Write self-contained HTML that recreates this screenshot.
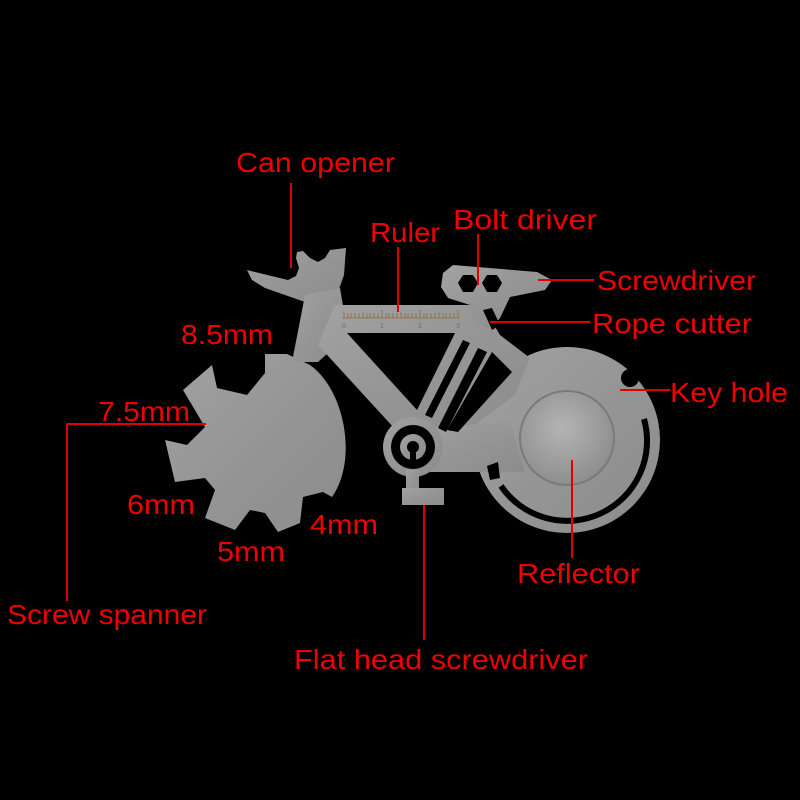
<!DOCTYPE html>
<html><head><style>html,body{margin:0;padding:0;background:#000;width:800px;height:800px;overflow:hidden}</style></head>
<body>
<svg width="800" height="800" viewBox="0 0 800 800" xmlns="http://www.w3.org/2000/svg">
<defs>
<linearGradient id="m" x1="0" y1="0" x2="1" y2="1">
<stop offset="0" stop-color="#a2a2a2"/><stop offset="0.5" stop-color="#959595"/><stop offset="1" stop-color="#8c8c8c"/>
</linearGradient>
<radialGradient id="r" cx="0.45" cy="0.4" r="0.6">
<stop offset="0" stop-color="#b4b4b4"/><stop offset="1" stop-color="#8e8e8e"/>
</radialGradient>
</defs>
<rect width="800" height="800" fill="#000"/>
<g fill="url(#m)">
<!-- gear -->
<path d="M265,354 L287,354 L310,365 C345,390 358,460 332,497 L323,492 L303,497 L300,523 L278,532 L265,513 L250,510 L235,530 L205,518 L215,490 L205,478 L175,482 L165,440 L187,445 L205,427 L183,390 L212,365 L217,388 L247,395 L265,373 Z"/>
<!-- front wheel -->
<circle cx="567" cy="440" r="93"/>
<!-- handlebar -->
<polygon points="247,270 288,280 296,276 299,268 296,258 297,252 303,251 310,258 318,262 325,258 330,250 346,248 344,275 338,292 320,305 305,302 285,295 265,288 252,280"/>
<!-- stem -->
<polygon points="305,295 340,288 348,335 318,362 292,362"/>
<!-- frame main -->
<polygon points="335,305 482,305 500,335 530,358 515,395 455,440 405,440 318,345"/>
<!-- chainstay -->
<polygon points="415,428 510,422 525,472 420,472"/>
<!-- seat -->
<polygon points="443,273 453,265 537,272 552,280 545,290 510,297 500,318 490,330 473,320 470,305 448,298 441,287"/>
<!-- crank -->
<circle cx="413" cy="447" r="30"/>
<rect x="406" y="470" width="13" height="22"/>
<rect x="402" y="488" width="42" height="17"/>
</g>
<!-- cutouts -->
<g fill="#000">
<polygon points="347,333 455,333 417,410"/>
<polygon points="463,340 470,343 432,418 425,415"/>
<polygon points="478,348 487,352 446,432 438,428"/>
<polygon points="492,352 512,372 458,432 447,430"/>
<circle cx="413" cy="447" r="22"/>
<circle cx="630" cy="378" r="9"/>
<polygon points="487,466 498,462 500,478 490,480"/>
<polygon points="463,275 473,275 478,283 473,292 463,292 458,283"/>
<polygon points="487,275 497,275 502,283 497,292 487,292 482,283"/>
<polygon points="483,310 492,308 500,325 492,330"/>
</g>
<path d="M644,419 A80,80 0 0 1 501,486" fill="none" stroke="#000" stroke-width="6"/>
<circle cx="413" cy="447" r="13" fill="url(#m)"/>
<circle cx="413" cy="447" r="6" fill="#000"/>
<rect x="410" y="450" width="6" height="14" fill="#000"/>
<circle cx="567" cy="438" r="47" fill="url(#r)" stroke="#7a7a7a" stroke-width="2"/>
<!-- ruler -->
<g stroke="#8a6a3a" stroke-width="0.8">
<line x1="342" y1="318" x2="460" y2="318"/>
<path d="M344,311v7M348,313v5M351,313v5M355,313v5M359,313v5M363,312v6M367,313v5M370,313v5M374,313v5M378,313v5M382,310v8M386,313v5M389,313v5M393,313v5M397,313v5M401,312v6M405,313v5M408,313v5M412,313v5M416,313v5M420,310v8M424,313v5M427,313v5M431,313v5M435,313v5M439,312v6M443,313v5M446,313v5M450,313v5M454,313v5M458,310v8"/>
</g>
<g fill="#8a6a3a" font-family="Liberation Sans" font-size="7"><text x="342" y="328">0</text><text x="380" y="328">1</text><text x="418" y="328">2</text><text x="456" y="328">3</text></g>
<!-- connectors -->
<g stroke="#e00000" stroke-width="2" fill="none">
<line x1="291" y1="183" x2="291" y2="268"/>
<line x1="398" y1="247" x2="398" y2="312"/>
<line x1="478" y1="234" x2="478" y2="285"/>
<line x1="538" y1="280" x2="594" y2="280"/>
<line x1="490" y1="322" x2="590" y2="322"/>
<line x1="620" y1="390" x2="670" y2="390"/>
<line x1="572" y1="460" x2="572" y2="558"/>
<line x1="424" y1="505" x2="424" y2="640"/>
<polyline points="206,424 67,424 67,601"/>
</g>
<g fill="#f00000" font-family="Liberation Sans Narrow, Liberation Sans, sans-serif" font-size="28">
<text x="236" y="172" textLength="159" lengthAdjust="spacingAndGlyphs">Can opener</text>
<text x="370" y="242" textLength="70" lengthAdjust="spacingAndGlyphs">Ruler</text>
<text x="453" y="229" textLength="144" lengthAdjust="spacingAndGlyphs">Bolt driver</text>
<text x="597" y="290" textLength="159" lengthAdjust="spacingAndGlyphs">Screwdriver</text>
<text x="592" y="333" textLength="160" lengthAdjust="spacingAndGlyphs">Rope cutter</text>
<text x="670" y="402" textLength="118" lengthAdjust="spacingAndGlyphs">Key hole</text>
<text x="181" y="344" textLength="92" lengthAdjust="spacingAndGlyphs">8.5mm</text>
<text x="98" y="421" textLength="92" lengthAdjust="spacingAndGlyphs">7.5mm</text>
<text x="127" y="514" textLength="68" lengthAdjust="spacingAndGlyphs">6mm</text>
<text x="217" y="561" textLength="68" lengthAdjust="spacingAndGlyphs">5mm</text>
<text x="310" y="534" textLength="68" lengthAdjust="spacingAndGlyphs">4mm</text>
<text x="517" y="583" textLength="123" lengthAdjust="spacingAndGlyphs">Reflector</text>
<text x="7" y="624" textLength="200" lengthAdjust="spacingAndGlyphs">Screw spanner</text>
<text x="294" y="669" textLength="294" lengthAdjust="spacingAndGlyphs">Flat head screwdriver</text>
</g>
</svg>
</body></html>
